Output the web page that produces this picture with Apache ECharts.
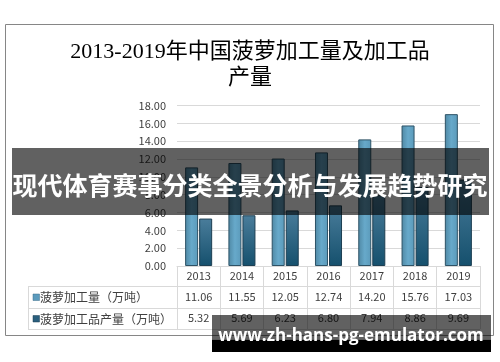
<!DOCTYPE html>
<html><head><meta charset="utf-8">
<script src="https://cdn.jsdelivr.net/npm/echarts@6/dist/echarts.min.js"></script>
<style>html,body{margin:0;padding:0;background:#fff}#c{width:500px;height:362px}</style>
</head><body><div id="c"></div>
<script>
const years = ['2013','2014','2015','2016','2017','2018','2019'];
const seriesNames = ['菠萝加工量（万吨）','菠萝加工品产量（万吨）'];
const processing = [11.06, 11.55, 12.05, 12.74, 14.20, 15.76, 17.03];
const products = [5.32, 5.69, 6.23, 6.80, 7.94, 8.86, 9.69];
const yTicks = {min: 0, max: 18, interval: 2};
const titleText = '2013-2019年中国菠萝加工量及加工品\n产量';
const bannerText = '现代体育赛事分类全景分析与发展趋势研究';
const watermarkText = 'www.zh-hans-pg-emulator.com';

const chart = echarts.init(document.getElementById('c'), null, {renderer: 'canvas'});
const numFont = "'Noto Sans CJK SC', 'Noto Sans', sans-serif";
const grey = '#d9d9d9';
const txt = '#404040';

const c1 = new echarts.graphic.LinearGradient(0,0,1,0,[
  {offset:0,color:'#4f88a4'},{offset:0.5,color:'#67a9ca'},{offset:1,color:'#5b9aba'}]);
const c2 = new echarts.graphic.LinearGradient(0,0,0,1,[
  {offset:0,color:'#4a7d9b'},{offset:1,color:'#15506d'}]);

function rowAxis(data, offset) {
  return {
    type: 'category', data: data.map(v => v.toFixed(2)), gridIndex: 0, position: 'bottom',
    offset: offset, axisLine: {show: false}, axisTick: {show: false},
    axisLabel: {margin: 4, color: txt, fontSize: 11, fontFamily: numFont, interval: 0}
  };
}

chart.setOption({
  animation: false,
  title: {
    text: titleText, left: 'center', top: 34,
    textStyle: {fontFamily: "'Liberation Serif', 'Noto Sans CJK SC', serif", fontSize: 22,
      fontWeight: 'normal', color: '#000', lineHeight: 26}
  },
  grid: {left: 177, right: 20, top: 105.5, bottom: 96},
  xAxis: [
    {
      type: 'category', data: years,
      axisLine: {show: true, lineStyle: {color: grey}},
      axisTick: {show: true, length: 63, lineStyle: {color: grey}},
      axisLabel: {margin: 4, color: txt, fontSize: 11, fontFamily: numFont, interval: 0}
    },
    rowAxis(processing, 21),
    rowAxis(products, 42.5)
  ],
  yAxis: {
    type: 'value', min: yTicks.min, max: yTicks.max, interval: yTicks.interval,
    axisLine: {show: false}, axisTick: {show: false},
    splitLine: {lineStyle: {color: grey}},
    axisLabel: {margin: 11, color: txt, fontSize: 11, fontFamily: numFont,
      formatter: v => v.toFixed(2)}
  },
  series: [
    {name: seriesNames[0], type: 'bar', data: processing, barWidth: 13, barGap: '8%',
      itemStyle: {color: c1, borderColor: '#2d5266', borderWidth: 1}},
    {name: seriesNames[1], type: 'bar', data: products, barWidth: 13,
      itemStyle: {color: c2, borderColor: '#1d3f52', borderWidth: 1}}
  ],
  graphic: [
    {type: 'rect', shape: {x: 5.5, y: 24.5, width: 488, height: 311}, silent: true,
      style: {fill: 'none', stroke: '#868686', lineWidth: 1}, z: 0},
    {type: 'line', shape: {x1: 28, y1: 286.5, x2: 480, y2: 286.5}, style: {stroke: grey, lineWidth: 1}},
    {type: 'line', shape: {x1: 28, y1: 308.5, x2: 480, y2: 308.5}, style: {stroke: grey, lineWidth: 1}},
    {type: 'line', shape: {x1: 28, y1: 329.5, x2: 480, y2: 329.5}, style: {stroke: grey, lineWidth: 1}},
    {type: 'line', shape: {x1: 28.5, y1: 286, x2: 28.5, y2: 330}, style: {stroke: grey, lineWidth: 1}},
    {type: 'rect', shape: {x: 33, y: 294, width: 6.5, height: 6.5}, style: {fill: '#5b9bbd', stroke: '#3d6f8a', lineWidth: 0.5}},
    {type: 'rect', shape: {x: 33, y: 315.5, width: 6.5, height: 6.5}, style: {fill: '#2a5f7e', stroke: '#1d3f52', lineWidth: 0.5}},
    {type: 'text', x: 40, y: 297.5, style: {text: seriesNames[0], fill: txt, fontSize: 12,
      fontFamily: numFont, verticalAlign: 'middle', textAlign: 'left'}},
    {type: 'text', x: 40, y: 319, style: {text: seriesNames[1], fill: txt, fontSize: 12,
      fontFamily: numFont, verticalAlign: 'middle', textAlign: 'left'}},
    {type: 'rect', shape: {x: 12, y: 148, width: 477, height: 67}, z: 100,
      style: {fill: 'rgba(0,0,0,0.62)'}},
    {type: 'text', x: 250, y: 185, z: 101, style: {text: bannerText, fill: '#fff', fontSize: 25,
      fontWeight: 'bold', fontFamily: "'Noto Sans CJK SC', sans-serif", textAlign: 'center', verticalAlign: 'middle'}},
    {type: 'rect', shape: {x: 212, y: 315, width: 279, height: 24.5}, z: 100,
      style: {fill: 'rgba(0,0,0,0.62)'}},
    {type: 'rect', shape: {x: 212, y: 339.5, width: 279, height: 12.5}, z: 100,
      style: {fill: '#000'}},
    {type: 'text', x: 351, y: 336, z: 101, style: {text: watermarkText, fill: '#fff', fontSize: 17,
      fontWeight: 'bold', fontFamily: "'Open Sans', sans-serif", textAlign: 'center', verticalAlign: 'middle'}}
  ]
});
</script></body></html>
